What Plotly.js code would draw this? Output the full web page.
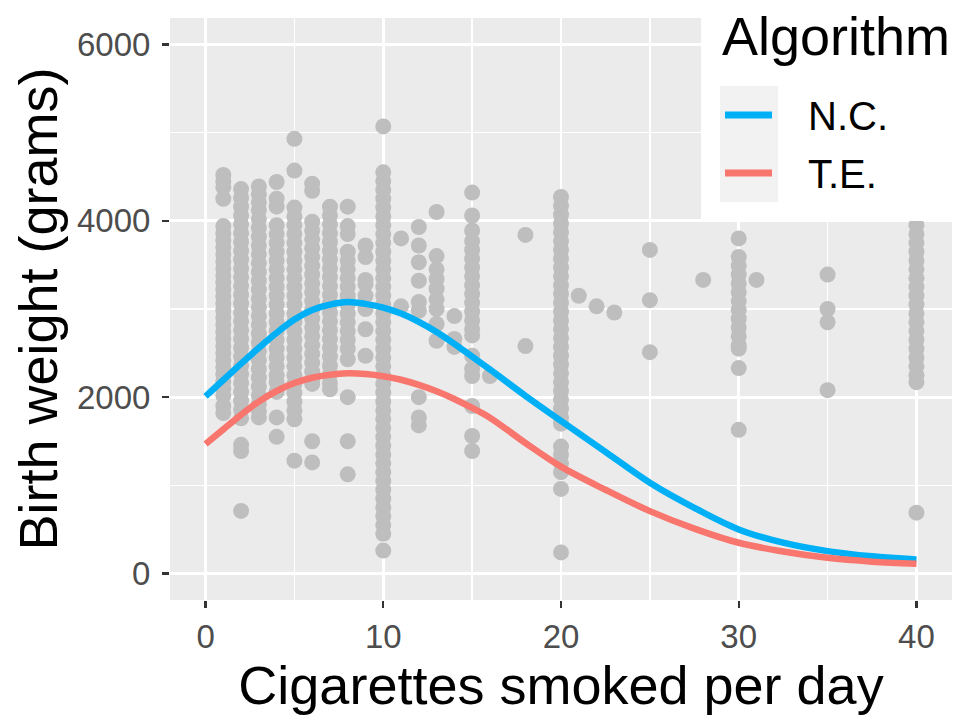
<!DOCTYPE html>
<html>
<head>
<meta charset="utf-8">
<script src="https://cdn.plot.ly/plotly-3.0.1.min.js"></script>
<style>
  html, body { margin: 0; padding: 0; background: #fff; }
  #chart { width: 969px; height: 727px; }
</style>
</head>
<body>
<div id="chart"></div>
<script>
// birth weight (grams) observed at each number of cigarettes per day
const bw01 = [4520, 4450, 4380, 4250, 3940, 3860, 3780, 3700, 3620, 3540, 3460, 3380, 3300, 3220, 3140, 3060, 2980, 2900, 2820, 2740, 2660, 2580, 2500, 2420, 2340, 2260, 2180, 2100, 2020, 1900, 1820];
const bw02 = [4360, 4260, 4160, 4060, 3960, 3860, 3760, 3660, 3560, 3460, 3360, 3260, 3160, 3060, 2960, 2860, 2760, 2660, 2560, 2460, 2360, 2260, 2160, 2060, 1960, 1860, 1760, 1460, 1390, 710];
const bw03 = [4390, 4300, 4210, 4120, 4020, 3920, 3820, 3720, 3620, 3520, 3420, 3320, 3220, 3120, 3020, 2920, 2820, 2720, 2620, 2520, 2420, 2320, 2220, 2120, 2020, 1920, 1840, 1770];
const bw04 = [4440, 4250, 4160, 3950, 3850, 3750, 3650, 3550, 3450, 3350, 3250, 3150, 3050, 2950, 2850, 2750, 2650, 2550, 2450, 2350, 2250, 2170, 2060, 1770, 1550];
const bw05 = [4930, 4570, 4150, 4050, 3950, 3850, 3750, 3650, 3550, 3450, 3350, 3250, 3150, 3050, 2950, 2850, 2750, 2650, 2550, 2450, 2350, 2250, 2150, 2050, 1950, 1850, 1750, 1280];
const bw06 = [4420, 4340, 3990, 3890, 3790, 3690, 3590, 3490, 3390, 3290, 3190, 3090, 2990, 2890, 2790, 2690, 2590, 2490, 2390, 2290, 2190, 2150, 1500, 1260];
const bw07 = [4160, 4060, 3960, 3860, 3760, 3660, 3560, 3460, 3360, 3260, 3160, 3060, 2960, 2860, 2760, 2660, 2560, 2460, 2360, 2260, 2160, 2090];
const bw08 = [4160, 3940, 3850, 3650, 3550, 3450, 3350, 3250, 3150, 3050, 2950, 2850, 2750, 2650, 2550, 2430, 2000, 1500, 1125];
const bw09 = [3720, 3590, 3330, 3280, 3150, 3000, 2770, 2470];
const bw10 = [5070, 4550, 4450, 4350, 4250, 4150, 4050, 3950, 3850, 3750, 3650, 3550, 3450, 3350, 3250, 3150, 3050, 2950, 2850, 2750, 2650, 2550, 2450, 2350, 2250, 2150, 2050, 1950, 1850, 1750, 1650, 1550, 1450, 1350, 1250, 1150, 1050, 950, 850, 750, 650, 550, 450, 260];
const bw11 = [3800, 3030];
const bw12 = [3930, 3720, 3530, 3320, 3080, 2980, 2000, 1770, 1680];
const bw13 = [4100, 3600, 3450, 3340, 3230, 3110, 3000, 2830, 2640];
const bw14 = [2920, 2660, 2570];
const bw15 = [4320, 4060, 3890, 3770, 3670, 3570, 3470, 3370, 3270, 3170, 3070, 2970, 2870, 2770, 2700, 2470, 2320, 2240, 1900, 1560, 1390];
const bw16 = [2240];
const bw18 = [3840, 2580];
const bw20 = [4270, 4170, 4070, 3970, 3870, 3770, 3670, 3570, 3470, 3370, 3270, 3170, 3070, 2970, 2870, 2770, 2670, 2570, 2470, 2370, 2270, 2170, 2070, 1970, 1870, 1770, 1700, 1440, 1350, 1250, 1150, 960, 240];
const bw21 = [3150];
const bw22 = [3030];
const bw23 = [2960];
const bw25 = [3670, 3100, 2510];
const bw28 = [3330];
const bw30 = [3800, 3590, 3490, 3390, 3290, 3190, 3090, 2990, 2890, 2790, 2690, 2590, 2550, 2330, 1630];
const bw31 = [3330];
const bw35 = [3390, 3000, 2850, 2080];
const bw40 = [4050, 3950, 3850, 3750, 3650, 3550, 3450, 3350, 3250, 3150, 3050, 2950, 2850, 2750, 2650, 2550, 2450, 2350, 2250, 2170, 690];

const cigLevels = [1, 2, 3, 4, 5, 6, 7, 8, 9, 10, 11, 12, 13, 14, 15, 16, 18, 20, 21, 22, 23, 25, 28, 30, 31, 35, 40];
const weightCols = [bw01, bw02, bw03, bw04, bw05, bw06, bw07, bw08, bw09, bw10, bw11, bw12, bw13, bw14, bw15, bw16, bw18, bw20, bw21, bw22, bw23, bw25, bw28, bw30, bw31, bw35, bw40];

// fitted curves for the two algorithms
const curveCig = [0, 1, 2, 3, 4, 5, 6, 7, 8, 9, 10, 11, 12, 13, 14, 15, 16, 18, 20, 22.5, 25, 27.5, 30, 32.5, 35, 37.5, 40];
const fitNC = [2010, 2195, 2380, 2560, 2730, 2880, 2990, 3050, 3078, 3058, 3015, 2948, 2855, 2740, 2605, 2460, 2315, 2015, 1731, 1380, 1030, 745, 500, 350, 254, 195, 159];
const fitTE = [1470, 1635, 1800, 1950, 2070, 2160, 2220, 2255, 2270, 2262, 2238, 2198, 2140, 2068, 1980, 1878, 1768, 1480, 1212, 950, 708, 510, 349, 250, 178, 135, 110];

const algoNames = ['N.C.', 'T.E.'];
const algoColors = ['#00B0F6', '#F8766D'];
const legendTitle = 'Algorithm';

const FONT = 'Liberation Sans, Arial, Helvetica, sans-serif';

const ptX = [];
const ptY = [];
cigLevels.forEach((c, i) => {
    weightCols[i].forEach(w => { ptX.push(c); ptY.push(w); });
});

const traces = [
    {
        x: ptX, y: ptY,
        type: 'scatter', mode: 'markers',
        marker: { color: '#BEBEBE', size: 16 },
        showlegend: false,
        hoverinfo: 'skip'
    }
];
[fitNC, fitTE].forEach((fit, i) => {
    traces.push({
        x: curveCig, y: fit,
        type: 'scatter', mode: 'lines',
        name: algoNames[i],
        showlegend: false,
        line: { color: algoColors[i], width: 6.5, shape: 'spline' }
    });
});

// ggplot-style legend drawn inside the panel, top right
const shapes = [
    { type: 'rect', xref: 'paper', yref: 'paper', x0: 0.679, x1: 1.0, y0: 0.651, y1: 1.04,
      fillcolor: '#FFFFFF', line: { width: 0 }, layer: 'above' },
    { type: 'rect', xref: 'paper', yref: 'paper', x0: 0.7033, x1: 0.7775, y0: 0.684, y1: 0.883,
      fillcolor: '#F2F2F2', line: { width: 0 }, layer: 'above' }
];
const annotations = [
    { text: legendTitle, xref: 'paper', yref: 'paper', x: 0.7033, y: 0.969,
      xanchor: 'left', yanchor: 'middle', showarrow: false,
      font: { family: FONT, size: 54, color: '#000' } }
];
const keyRows = [0.8333, 0.7337];
algoNames.forEach((name, i) => {
    shapes.push({ type: 'line', xref: 'paper', yref: 'paper', x0: 0.7097, x1: 0.7698,
        y0: keyRows[i], y1: keyRows[i], line: { color: algoColors[i], width: 7 }, layer: 'above' });
    annotations.push({ text: name, xref: 'paper', yref: 'paper', x: 0.8133, y: keyRows[i] - 0.002,
        xanchor: 'left', yanchor: 'middle', showarrow: false,
        font: { family: FONT, size: 40, color: '#000' } });
});

const layout = {
    width: 969, height: 727,
    margin: { l: 170, r: 17, t: 18, b: 127 },
    paper_bgcolor: '#FFFFFF',
    plot_bgcolor: '#EBEBEB',
    font: { family: FONT, color: '#000' },
    showlegend: false,
    xaxis: {
        range: [-2, 42],
        tickvals: [0, 10, 20, 30, 40],
        ticks: 'outside', ticklen: 7, tickwidth: 2.2, tickcolor: '#333333',
        tickfont: { family: FONT, size: 33, color: '#4D4D4D' },
        showgrid: true, gridcolor: '#FFFFFF', gridwidth: 2.8,
        minor: { dtick: 5, tick0: 0, showgrid: true, gridcolor: '#FFFFFF', gridwidth: 1.4, ticks: '' },
        zeroline: false, showline: false,
        title: { text: 'Cigarettes smoked per day', font: { family: FONT, size: 54, color: '#000' }, standoff: 2 }
    },
    yaxis: {
        range: [-300, 6300],
        tickvals: [0, 2000, 4000, 6000],
        ticks: 'outside', ticklen: 7, tickwidth: 2.2, tickcolor: '#333333',
        tickfont: { family: FONT, size: 33, color: '#4D4D4D' },
        ticklabelstandoff: 5,
        showgrid: true, gridcolor: '#FFFFFF', gridwidth: 2.8,
        minor: { dtick: 1000, tick0: 0, showgrid: true, gridcolor: '#FFFFFF', gridwidth: 1.4, ticks: '' },
        zeroline: false, showline: false,
        title: { text: 'Birth weight (grams)', font: { family: FONT, size: 54, color: '#000' }, standoff: 2 }
    },
    shapes: shapes,
    annotations: annotations
};

Plotly.newPlot('chart', traces, layout, { staticPlot: true });
</script>
</body>
</html>
